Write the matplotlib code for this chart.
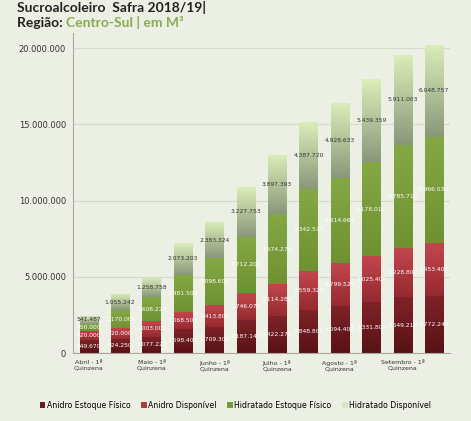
import numpy as np
import matplotlib.pyplot as plt
from matplotlib.patches import Patch
from matplotlib.colors import LinearSegmentedColormap

# dados (m³) por quinzena
meses = ['Abril', 'Maio', 'Junho', 'Julho', 'Agosto', 'Setembro']
categorias = [f'{m} - {q}ª Quinzena' for m in meses for q in (1, 2)]

anidro_estoque = [849670, 924250, 1077220, 1598400, 1709300, 2187140,
                  2422270, 2848800, 3094400, 3331800, 3649210, 3772240]
anidro_disp = [620000, 720000, 1003000, 1068500, 1413800, 1746070,
               2114280, 2559320, 2799520, 3025400, 3228800, 3453400]
hidratado_estoque = [450000, 1170000, 1608220, 2481500, 3098600, 3712200,
                     4574270, 5342570, 5614664, 6178010, 6785710, 6966030]
hidratado_disp = [541487, 1055242, 1258758, 2073203, 2383324, 3227753,
                  3897393, 4387720, 4928633, 5439359, 5911003, 6048757]

series = [
    ('Anidro Estoque Físico', anidro_estoque, '#7f2328', '#581216', 'white'),
    ('Anidro Disponível', anidro_disp, '#c2474d', '#962a30', 'white'),
    ('Hidratado Estoque Físico', hidratado_estoque, '#85a845', '#6f9132', 'white'),
    ('Hidratado Disponível', hidratado_disp, '#dbedb8', '#8a987a', '#333333'),
]
legend_colors = ['#6b1a1f', '#b23a40', '#7a9b3a', '#d8e6c4']

BG = '#ecefe4'


def fmt(v):
    return f'{v:,}'.replace(',', '.')


def gradient_bar(ax, x, bottom, height, width, c_top, c_bot):
    bar = ax.bar(x, height, width, bottom=bottom, color='none', edgecolor='none')[0]
    cmap = LinearSegmentedColormap.from_list('g', [c_bot, c_top])
    grad = np.linspace(0, 1, 64).reshape(-1, 1)
    im = ax.imshow(grad, cmap=cmap, aspect='auto', origin='lower',
                   extent=(x - width / 2, x + width / 2, bottom, bottom + height),
                   zorder=2)
    im.set_clip_path(bar)
    return bar


fig = plt.figure(figsize=(4.71, 4.21), dpi=100, facecolor=BG)
ax = fig.add_axes([0.155, 0.1615, 0.80, 0.760], facecolor=BG)

x = np.arange(len(categorias))
width = 0.58
bottoms = np.zeros(len(categorias))
for nome, vals, c_top, c_bot, txt_color in series:
    for i, v in enumerate(vals):
        gradient_bar(ax, x[i], bottoms[i], v, width, c_top, c_bot)
        ax.text(x[i], bottoms[i] + v / 2, fmt(v), ha='center', va='center',
                fontsize=4.3, color=txt_color, zorder=4)
    bottoms += np.array(vals)

ax.set_xlim(-0.5, len(categorias) - 0.5)
ax.set_ylim(0, 21_000_000)
ax.set_yticks(np.arange(0, 20_000_001, 5_000_000))
ax.set_yticklabels([fmt(v) for v in range(0, 20_000_001, 5_000_000)],
                   fontsize=6, color='#333333')
ax.yaxis.grid(True, color='#d6dacd', linewidth=0.8)
ax.set_axisbelow(True)

ax.set_xticks(x[::2])
ax.set_xticklabels([c.replace(' Quinzena', '\nQuinzena') for c in categorias[::2]],
                   fontsize=4.5, color='#333333')
ax.tick_params(axis='both', length=0, pad=5)

for s in ['top', 'right']:
    ax.spines[s].set_visible(False)
ax.spines['left'].set_color('#a8a8a0')
ax.spines['bottom'].set_color('#a8a8a0')

handles = [Patch(facecolor=c, edgecolor='none', label=s[0])
           for s, c in zip(series, legend_colors)]
fig.legend(handles=handles, loc='center', bbox_to_anchor=(0.5, 0.038), ncol=4,
           frameon=False, fontsize=5.6, handlelength=0.7, handleheight=0.7,
           handletextpad=0.2, columnspacing=1.4)

fig.text(0.036, 1 - 12 / 421, 'Sucroalcoleiro  Safra 2018/19|', fontsize=10,
         fontweight='bold', color='#222222', family='Lato', va='baseline')
t = fig.text(0.036, 1 - 27 / 421, 'Região: ', fontsize=10, fontweight='bold',
             color='#222222', family='Lato', va='baseline')
fig.canvas.draw()
bb = t.get_window_extent()
fig.text(bb.x1 / fig.bbox.width, 1 - 27 / 421, 'Centro-Sul | em M³', fontsize=10,
         fontweight='bold', color='#8bab55', family='Lato', va='baseline')

fig.savefig('out.png', dpi=100, facecolor=BG)
